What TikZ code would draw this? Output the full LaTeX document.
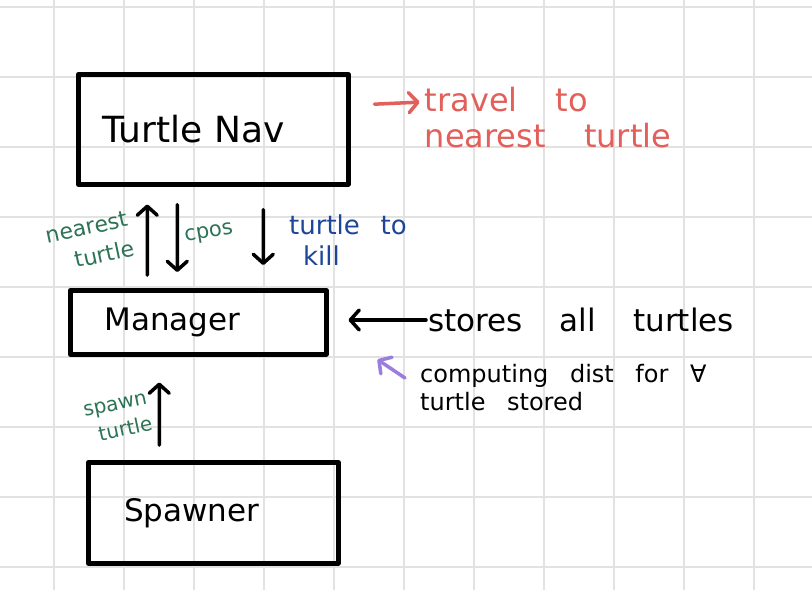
\documentclass[tikz,border=0pt]{standalone}
\usepackage{fontspec}
\setmainfont{DejaVu Sans}
\usetikzlibrary{arrows.meta}

\definecolor{gridgray}{HTML}{E2E2E2}
\definecolor{inkred}{HTML}{E25F5A}
\definecolor{inkgreen}{HTML}{2D7355}
\definecolor{inkblue}{HTML}{1E4696}
\definecolor{inkpurple}{HTML}{9B7DDC}

\begin{document}
\begin{tikzpicture}[x=10pt, y=-10pt]
\tikzset{every node/.style={inner sep=2pt}}
\tikzset{box/.style={draw, line width=4.5pt, line join=round, align=left, anchor=north west, font=\fontsize{31}{36}\selectfont}}
\tikzset{flow/.style={line width=3.5pt, line cap=round, -{Straight Barb[length=9pt,width=20pt,line cap=round,line join=round]}}}
\tikzset{gridline/.style={draw=gridgray, line width=1.5pt}}

\useasboundingbox (0,0) rectangle (81.2,59);
\fill[white] (0,0) rectangle (81.2,59);

% Grid paper
\foreach \gx in {5.4,12.4,...,76} \draw[gridline] (\gx,0) -- (\gx,59);
\foreach \gy in {0.7,7.7,...,57} \draw[gridline] (0,\gy) -- (81.2,\gy);

% Boxes
\node[box, font=\fontsize{36}{40}\selectfont, inner xsep=24pt, text width=222pt, minimum height=110pt] at (7.6,7.2) (nav) {Turtle Nav};
\node[box, inner xsep=34pt, text width=188pt, minimum height=64pt] at (6.8,28.8) (manager) {Manager};
\node[box, inner xsep=36pt, text width=178pt, minimum height=101pt] at (8.6,46.0) (spawner) {Spawner};

% Notes
\node[inkred, align=left, font={\fontsize{32}{36}\selectfont\spaceskip=1.2em\relax}] at (54.8,11.8) (travel) {travel to\\nearest turtle};
\node[anchor=west, font={\fontsize{31}{36}\selectfont\spaceskip=1.2em\relax}] at (42.6,32.0) (stores) {stores all turtles};
\node[anchor=west, align=left, font={\fontsize{24}{28}\selectfont\spaceskip=0.9em\relax}] at (41.8,38.8) (computing) {computing dist for ∀\\turtle stored};

% Labels on the arrows
\node[inkgreen, align=right, rotate=12, font=\fontsize{22}{30}\selectfont] at (9.0,24.2) (nearestlbl) {nearest\\turtle};
\node[inkgreen, rotate=10, font=\fontsize{21}{24}\selectfont] at (20.9,23.4) (cposlbl) {cpos};
\node[inkblue, align=left, font={\fontsize{26}{31}\selectfont\spaceskip=0.8em\relax}] at (34.8,24.0) (killlbl) {turtle to\\\hspace*{14pt}kill};
\node[inkgreen, align=right, rotate=12, font=\fontsize{20}{27}\selectfont] at (11.8,41.8) (spawnlbl) {spawn\\turtle};

% Arrows between Turtle Nav and Manager
\draw[flow, shorten <=13pt, shorten >=18pt] ([xshift=-51pt]manager.north) -- ([xshift=-66pt]nav.south);
\draw[flow, shorten <=18pt, shorten >=16pt] ([xshift=-36pt]nav.south) -- ([xshift=-21pt]manager.north);
\draw[flow, shorten <=23pt, shorten >=23pt] ([xshift=50pt]nav.south) -- ([xshift=65pt]manager.north);

% Arrow from Spawner
\draw[flow, shorten <=15pt, shorten >=26pt] ([xshift=-54pt]spawner.north) -- ([xshift=-39pt]manager.south);

% Arrows to the notes
\draw[flow, inkred, shorten <=24pt, shorten >=3pt] ([yshift=24pt]nav.east) -- ([yshift=16pt]travel.west);
\draw[flow, shorten >=20pt] (stores.west) -- (stores.west -| manager.east);
\draw[flow, inkpurple] ([xshift=-13pt,yshift=10pt]computing.west) -- ([xshift=49pt,yshift=-3pt]manager.south east);
\end{tikzpicture}
\end{document}
